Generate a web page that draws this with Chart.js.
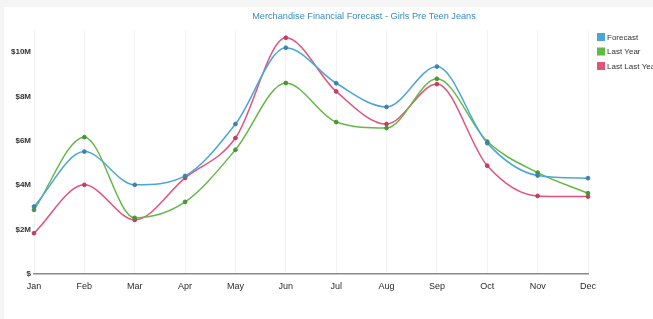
<!DOCTYPE html>
<html>
<head>
<meta charset="utf-8">
<script src="https://cdn.jsdelivr.net/npm/chart.js@4"></script>
<style>
  html, body { margin: 0; padding: 0; background: #fff; }
  #wrap { position: relative; width: 653px; height: 319px; }
  canvas { display: block; }
</style>
</head>
<body>
<div id="wrap"><canvas id="c" width="653" height="319"></canvas></div>
<script>
const chartTitle = 'Merchandise Financial Forecast - Girls Pre Teen Jeans';
const months = ['Jan','Feb','Mar','Apr','May','Jun','Jul','Aug','Sep','Oct','Nov','Dec'];
const seriesNames = ['Forecast', 'Last Year', 'Last Last Year'];
// values in millions of dollars
const forecast     = [3.04, 5.52, 4.02, 4.42, 6.76, 10.2, 8.6, 7.53, 9.35, 5.9, 4.44, 4.32];
const lastYear     = [2.89, 6.17, 2.53, 3.25, 5.6, 8.61, 6.85, 6.58, 8.8, 5.97, 4.57, 3.64];
const lastLastYear = [1.84, 4.02, 2.44, 4.33, 6.13, 10.65, 8.23, 6.76, 8.56, 4.88, 3.52, 3.49];
const yTickValues  = [0, 2, 4, 6, 8, 10];

const lineColors  = ['#4ca5d9', '#63b946', '#e3527b'];
const pointColors = ['#3a84ad', '#4c9436', '#c23d63'];
const seriesData  = [forecast, lastYear, lastLastYear];

const decor = {
  id: 'decor',
  beforeDraw(chart) {
    const ctx = chart.ctx;
    ctx.save();
    ctx.fillStyle = '#f5f5f5';
    ctx.fillRect(0, 0, 653, 7);
    ctx.fillRect(0, 0, 4, 319);
    ctx.restore();
  },
  afterDraw(chart) {
    const ctx = chart.ctx;
    ctx.save();
    // title
    ctx.font = '9.2px "Liberation Sans Narrow", "Liberation Sans", sans-serif';
    ctx.fillStyle = '#3a8bc2';
    ctx.textAlign = 'center';
    ctx.textBaseline = 'middle';
    ctx.fillText(chartTitle, 364, 16);
    // legend
    ctx.font = '8px "Liberation Sans Narrow", "Liberation Sans", sans-serif';
    ctx.textAlign = 'left';
    chart.data.datasets.forEach((ds, i) => {
      const y = 37 + i * 14.5;
      ctx.fillStyle = ds.borderColor;
      ctx.fillRect(597, y - 4, 8, 8);
      ctx.fillStyle = '#333';
      ctx.fillText(ds.label, 607, y + 0.5);
    });
    ctx.restore();
  }
};

new Chart(document.getElementById('c'), {
  type: 'line',
  data: {
    labels: months,
    datasets: seriesData.map((d, i) => ({
      label: seriesNames[i],
      data: d.map(v => v * 1000000),
      borderColor: lineColors[i],
      backgroundColor: lineColors[i],
      pointBackgroundColor: pointColors[i],
      pointBorderColor: pointColors[i],
      pointRadius: 1.9,
      pointBorderWidth: 1,
      borderWidth: 1.5,
      cubicInterpolationMode: 'monotone',
      fill: false
    }))
  },
  options: {
    responsive: false,
    animation: false,
    layout: { padding: { left: 0, right: 65, top: 30, bottom: 25 } },
    plugins: {
      legend: { display: false },
      title: { display: false },
      tooltip: { enabled: false }
    },
    scales: {
      x: {
        offset: false,
        grid: { display: true, color: '#f2f2f2', drawTicks: false, lineWidth: 1 },
        border: { display: true, color: '#8a8a8a', width: 1.5 },
        ticks: {
          padding: 7, maxRotation: 0, autoSkip: false, color: '#2a2a2a',
          font: { family: '"Liberation Sans Narrow", "Liberation Sans", sans-serif', size: 9 }
        },
        afterFit(s) { s.height = 20; }
      },
      y: {
        min: 0, max: 11000000,
        grid: { display: false, drawTicks: false },
        border: { display: false },
        afterBuildTicks(s) { s.ticks = yTickValues.map(v => ({ value: v * 1000000 })); },
        ticks: {
          padding: 3, color: '#333',
          font: { family: '"Liberation Sans", sans-serif', size: 8, weight: 'bold' },
          callback(v) { return v === 0 ? '$' : '$' + (v / 1000000) + 'M'; }
        },
        afterFit(s) { s.width = 34; }
      }
    }
  },
  plugins: [decor]
});
</script>
</body>
</html>
